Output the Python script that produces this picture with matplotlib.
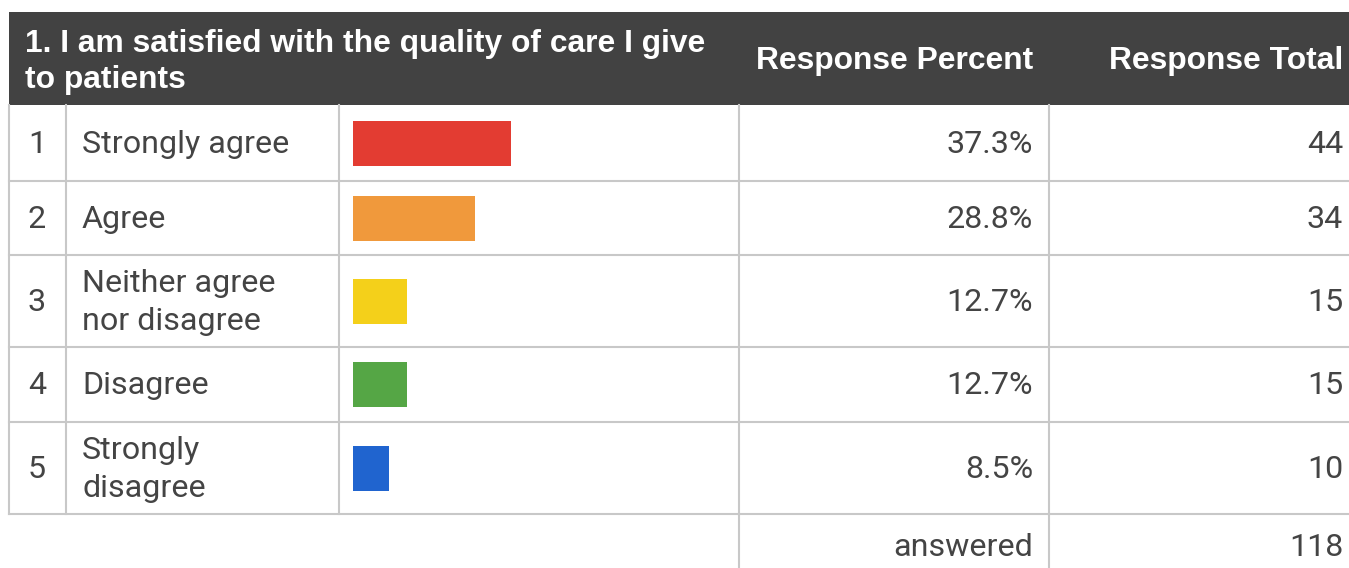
"""Survey question table with inline percent bars."""
import matplotlib
matplotlib.use("Agg")
import matplotlib.pyplot as plt

# data
QUESTION = "1. I am satisfied with the quality of care I give\nto patients"
ranks = ["1", "2", "3", "4", "5"]
answers = ["Strongly agree", "Agree", "Neither agree\nnor disagree", "Disagree", "Strongly\ndisagree"]
percents = [37.3, 28.8, 12.7, 12.7, 8.5]
totals = [44, 34, 15, 15, 10]
answered = 118
bar_colors = ["#E33C32", "#F0993C", "#F4D01A", "#55A645", "#2064CF"]

# layout (pixels)
W, H = 1349, 568
HEAD_TOP, HEAD_BOT = 12, 105
row_edges = [105, 181, 255, 347, 422, 514]
col_edges = [9, 66, 339, 739, 1049]
BAR_X0 = 353
PX_PER_PCT = 4.23
GRID = "#C8C8C8"
TXT = "#444444"
BODY_FONT = ["Roboto", "DejaVu Sans"]
HEAD_FONT = ["Liberation Sans", "DejaVu Sans"]
FS = 23.2
HFS = 22.9

fig = plt.figure(figsize=(W / 100, H / 100), dpi=100)
ax = fig.add_axes([0, 0, 1, 1])
ax.set_xlim(0, W)
ax.set_ylim(H, 0)
ax.axis("off")

# header band
ax.add_patch(plt.Rectangle((col_edges[0], HEAD_TOP), W - col_edges[0], HEAD_BOT - HEAD_TOP,
                           color="#424242", lw=0, zorder=1))
ax.text(25, 62, QUESTION, color="white", fontsize=HFS, fontweight="bold", family=HEAD_FONT,
        va="center", ha="left", linespacing=1.3)
ax.text(1033, 61, "Response Percent", color="white", fontsize=HFS, fontweight="bold",
        family=HEAD_FONT, va="center", ha="right")
ax.text(1343, 61, "Response Total", color="white", fontsize=HFS, fontweight="bold",
        family=HEAD_FONT, va="center", ha="right")

# grid lines
for y in row_edges[1:]:
    ax.plot([col_edges[0], W], [y, y], color=GRID, lw=1.5, zorder=2)
for x in col_edges:
    ax.plot([x, x], [HEAD_BOT, row_edges[-1]], color=GRID, lw=1.5, zorder=2)
for x in col_edges[3:]:
    ax.plot([x, x], [row_edges[-1], H], color=GRID, lw=1.5, zorder=2)

centers = [(a + b) / 2 for a, b in zip(row_edges[:-1], row_edges[1:])]
for i, yc in enumerate(centers):
    ty = yc + 1.5
    ax.text(37, ty, ranks[i], color=TXT, fontsize=FS, family=BODY_FONT, ha="center", va="center")
    ax.text(82, ty, answers[i], color=TXT, fontsize=FS, family=BODY_FONT, ha="left", va="center",
            linespacing=1.4)
    ax.text(1033, ty, f"{percents[i]:.1f}%", color=TXT, fontsize=FS, family=BODY_FONT,
            ha="right", va="center")
    ax.text(1343, ty, str(totals[i]), color=TXT, fontsize=FS, family=BODY_FONT,
            ha="right", va="center")

foot_y = (row_edges[-1] + H + 12) / 2
ax.text(1033, foot_y, "answered", color=TXT, fontsize=FS, family=BODY_FONT, ha="right", va="center")
ax.text(1343, foot_y, str(answered), color=TXT, fontsize=FS, family=BODY_FONT, ha="right", va="center")

# bars column: x in percent, y in pixel rows
x0, x1 = col_edges[2] + 2, col_edges[3] - 2
y0, y1 = row_edges[0] + 2, row_edges[-1] - 2
bax = fig.add_axes([x0 / W, 1 - y1 / H, (x1 - x0) / W, (y1 - y0) / H])
bax.set_xlim(-(BAR_X0 - x0) / PX_PER_PCT, (x1 - BAR_X0) / PX_PER_PCT)
bax.set_ylim(y1, y0)
bax.barh(centers, percents, height=45, color=bar_colors, left=0)
bax.axis("off")

fig.savefig("out.png", dpi=100)
